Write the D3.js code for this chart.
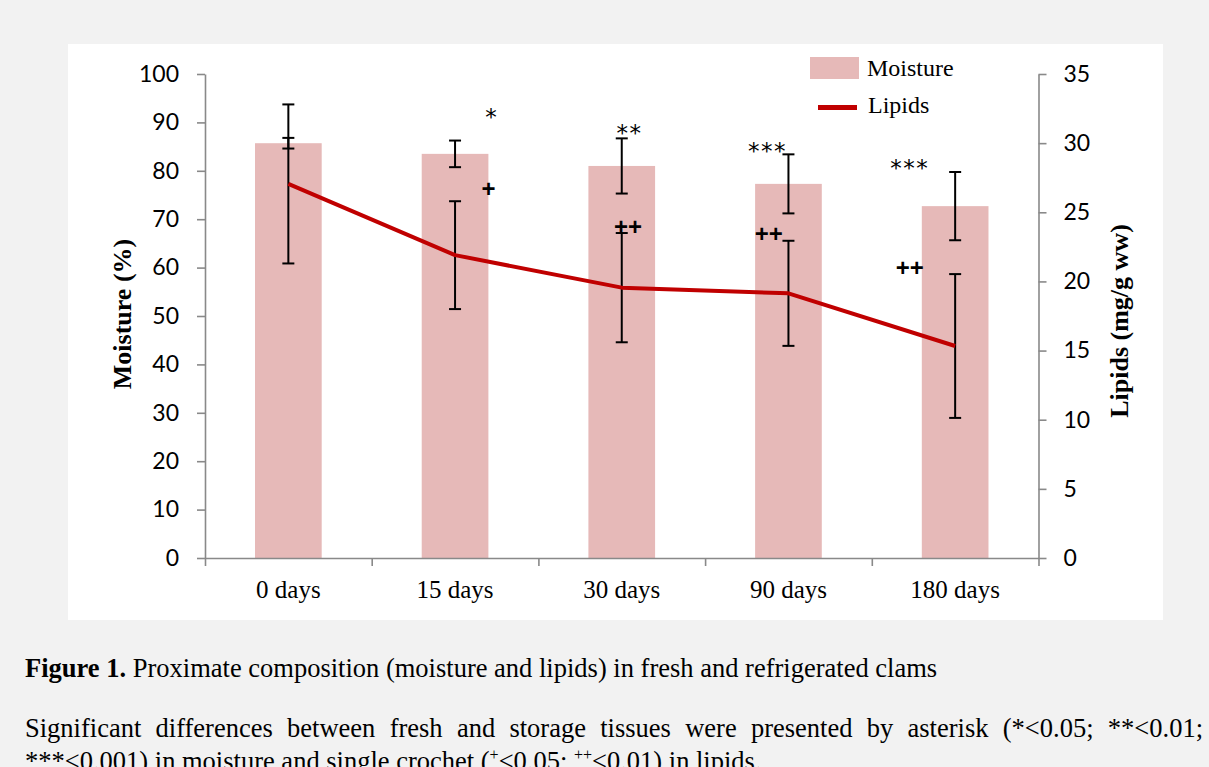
<!DOCTYPE html>
<html>
<head>
<meta charset="utf-8">
<script src="https://cdn.jsdelivr.net/npm/d3@7"></script>
<style>
  body { margin: 0; background: #f2f2f2; width: 1209px; height: 767px; overflow: hidden; position: relative; }
  #canvas { position: absolute; left: 0; top: 0; }
  .cap { position: absolute; left: 25px; width: 1178px; font-family: "Liberation Serif", "Times New Roman", serif; font-size: 26.5px; line-height: 30px; color: #000; white-space: nowrap; }
  .just { text-align: justify; text-align-last: justify; }
  .cap sup { font-size: 16px; line-height: 0; }
</style>
</head>
<body>
<div id="canvas"></div>
<div class="cap" style="top:653px;"><b>Figure 1.</b> Proximate composition (moisture and lipids) in fresh and refrigerated clams</div>
<div class="cap just" style="top:713px;">Significant differences between fresh and storage tissues were presented by asterisk (*&lt;0.05; **&lt;0.01;</div>
<div class="cap" style="top:746px;">***&lt;0.001) in moisture and single crochet (<sup>+</sup>&lt;0.05; <sup>++</sup>&lt;0.01) in lipids.</div>
<script>
const categories = ["0 days", "15 days", "30 days", "90 days", "180 days"];
const moisture = [85.7, 83.5, 81.0, 77.3, 72.7];
const moistureSD = [1.1, 2.75, 5.7, 6.1, 7.05];
const lipids = [27.05, 21.9, 19.55, 19.14, 15.33];
const lipidsSD = [5.75, 3.9, 3.95, 3.8, 5.2];
const moistureTicks = [0, 10, 20, 30, 40, 50, 60, 70, 80, 90, 100];
const lipidTicks = [0, 5, 10, 15, 20, 25, 30, 35];

// significance marks: label, category, place in band, value on its own axis
const moistureMarks = [
  ["*", "15 days", 0.72, 91.9],
  ["**", "30 days", 0.547, 88.6],
  ["***", "90 days", 0.375, 84.9],
  ["***", "180 days", 0.228, 81.5]
];
const lipidMarks = [
  ["+", "15 days", 0.70, 26.7],
  ["++", "30 days", 0.537, 23.9],
  ["++", "90 days", 0.382, 23.4],
  ["++", "180 days", 0.228, 20.95]
];

const data = categories.map((c, i) => ({
  cat: c, m: moisture[i], msd: moistureSD[i], l: lipids[i], lsd: lipidsSD[i]
}));

const width = 1209;
const height = 767;
const plotLeft = 205, plotRight = 1038.5, plotTop = 74, plotBottom = 558;
const axisColor = "#898989";
const sans = "Lato, 'Open Sans', sans-serif";
const serif = "'Liberation Serif', 'Times New Roman', serif";
const markFont = "'Liberation Sans', Arial, sans-serif";

const svg = d3.select("#canvas").append("svg")
  .attr("width", width)
  .attr("height", height);

svg.append("rect")
  .attr("x", 68).attr("y", 44)
  .attr("width", 1095).attr("height", 576)
  .attr("fill", "#ffffff");

const x = d3.scaleBand().domain(categories).range([plotLeft, plotRight]).padding(0);
const xEdge = d3.scaleLinear().domain([0, categories.length]).range([plotLeft, plotRight]);
const yL = d3.scaleLinear().domain([0, 100]).range([plotBottom, plotTop]);
const yR = d3.scaleLinear().domain([0, 35]).range([plotBottom, plotTop]);

const barW = x.bandwidth() * 0.4;
const cx = (d) => x(d) + x.bandwidth() / 2;

// bars
svg.append("g").selectAll("rect")
  .data(data)
  .enter()
  .append("rect")
  .attr("x", (d) => cx(d.cat) - barW / 2)
  .attr("width", barW)
  .attr("y", (d) => yL(d.m))
  .attr("height", (d) => yL(0) - yL(d.m))
  .attr("fill", "#e6b9b8");

// axes
const styleAxis = (g) => {
  g.selectAll("path, line").attr("stroke", axisColor).attr("stroke-width", 1.6);
};

svg.append("g")
  .attr("transform", `translate(${plotLeft},0)`)
  .call(d3.axisLeft(yL).tickValues(moistureTicks).tickSize(8).tickSizeOuter(0).tickPadding(18))
  .call(styleAxis)
  .call((g) => g.selectAll("text").attr("font-family", sans).attr("font-size", 23).attr("fill", "#000"));

svg.append("g")
  .attr("transform", `translate(${plotRight},0)`)
  .call(d3.axisRight(yR).tickValues(lipidTicks).tickSize(8).tickSizeOuter(0).tickPadding(17))
  .call(styleAxis)
  .call((g) => g.selectAll("text").attr("font-family", sans).attr("font-size", 23).attr("fill", "#000"));

svg.append("g")
  .attr("transform", `translate(0,${plotBottom})`)
  .call(d3.axisBottom(xEdge).ticks(categories.length).tickFormat("").tickSize(8).tickSizeOuter(0))
  .call(styleAxis);

svg.append("g")
  .attr("transform", `translate(0,${plotBottom})`)
  .call(d3.axisBottom(x).tickSize(0).tickPadding(22))
  .call((g) => g.select(".domain").remove())
  .call((g) => g.selectAll("text").attr("font-family", serif).attr("font-size", 25).attr("fill", "#000"));

// error bars (moisture on left scale, lipids on right scale)
const capW = 6;
const errs = svg.append("g").attr("stroke", "#000").attr("stroke-width", 2);
data.forEach((d) => {
  const xc = cx(d.cat);
  [[yL(d.m - d.msd), yL(d.m + d.msd)], [yR(d.l - d.lsd), yR(d.l + d.lsd)]].forEach(([y0, y1]) => {
    errs.append("line").attr("x1", xc).attr("x2", xc).attr("y1", y0).attr("y2", y1);
    errs.append("line").attr("x1", xc - capW).attr("x2", xc + capW).attr("y1", y0).attr("y2", y0);
    errs.append("line").attr("x1", xc - capW).attr("x2", xc + capW).attr("y1", y1).attr("y2", y1);
  });
});

// lipid line
svg.append("path")
  .datum(data)
  .attr("fill", "none")
  .attr("stroke", "#c00000")
  .attr("stroke-width", 4)
  .attr("stroke-linejoin", "round")
  .attr("d", d3.line().x((d) => cx(d.cat)).y((d) => yR(d.l)));

// significance labels
svg.append("g").selectAll("text")
  .data(moistureMarks)
  .enter()
  .append("text")
  .attr("x", (d) => x(d[1]) + x.bandwidth() * d[2])
  .attr("y", (d) => yL(d[3]))
  .attr("dy", "0.52em")
  .attr("text-anchor", "middle")
  .attr("font-family", "'DejaVu Sans', sans-serif")
  .attr("font-size", 23)
  .attr("letter-spacing", 1.5)
  .text((d) => d[0]);

svg.append("g").selectAll("text")
  .data(lipidMarks)
  .enter()
  .append("text")
  .attr("x", (d) => x(d[1]) + x.bandwidth() * d[2])
  .attr("y", (d) => yR(d[3]))
  .attr("dy", "0.33em")
  .attr("text-anchor", "middle")
  .attr("font-family", markFont)
  .attr("font-weight", "bold")
  .attr("font-size", 24)
  .text((d) => d[0]);

// axis titles
svg.append("text")
  .attr("transform", "translate(131,314) rotate(-90)")
  .attr("text-anchor", "middle")
  .attr("font-family", serif)
  .attr("font-weight", "bold")
  .attr("font-size", 26)
  .text("Moisture (%)");

svg.append("text")
  .attr("transform", "translate(1128,321) rotate(-90)")
  .attr("text-anchor", "middle")
  .attr("font-family", serif)
  .attr("font-weight", "bold")
  .attr("font-size", 26)
  .text("Lipids (mg/g ww)");

// legend
const legend = svg.append("g").attr("font-family", serif).attr("font-size", 24);
legend.append("rect")
  .attr("x", 810).attr("y", 57).attr("width", 49).attr("height", 22)
  .attr("fill", "#e6b9b8");
legend.append("text").attr("x", 867).attr("y", 76).text("Moisture");
legend.append("line")
  .attr("x1", 818).attr("x2", 857).attr("y1", 107.5).attr("y2", 107.5)
  .attr("stroke", "#c00000").attr("stroke-width", 5);
legend.append("text").attr("x", 868).attr("y", 113).text("Lipids");
</script>
</body>
</html>
